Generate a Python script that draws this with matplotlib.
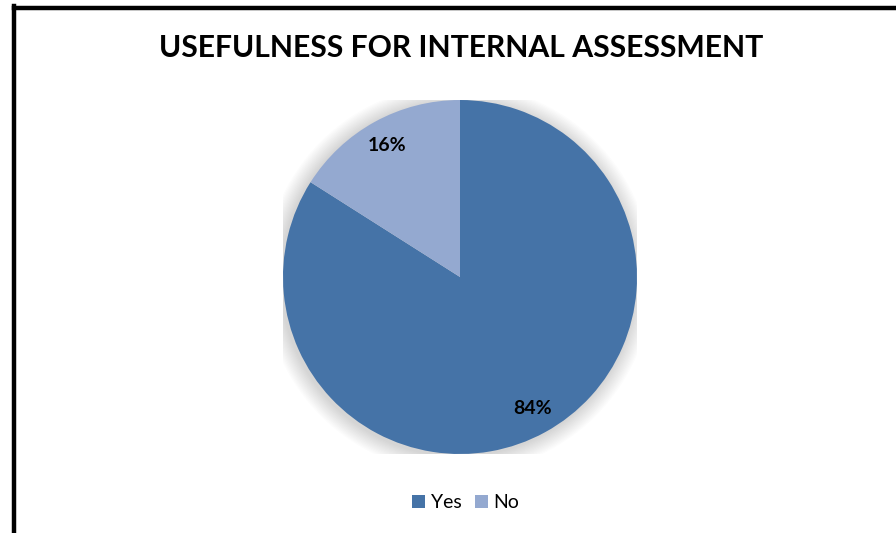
import matplotlib.pyplot as plt
from matplotlib.lines import Line2D
from matplotlib.patches import Circle, Patch

labels = ["Yes", "No"]
values = [84, 16]
colors = ["#4573A7", "#94A9D0"]

W, H = 896, 533
fig = plt.figure(figsize=(W / 100, H / 100), dpi=100)
plt.rcParams["font.family"] = ["Lato", "DejaVu Sans"]

# frame (only left and top edges visible in the crop)
fig.add_artist(Line2D([14 / W, 14 / W], [0, 1 - 6 / H], color="black", lw=3.2,
                      transform=fig.transFigure, solid_capstyle="projecting"))
fig.add_artist(Line2D([14 / W, 1], [1 - 8 / H, 1 - 8 / H], color="black", lw=3.2,
                      transform=fig.transFigure, solid_capstyle="projecting"))

fig.text(461 / W, 1 - 48 / H, "USEFULNESS FOR INTERNAL ASSESSMENT",
         ha="center", va="center", fontsize=21.7, fontweight="bold")

cx, cy, r = 460, 277, 177
ax = fig.add_axes([(cx - r) / W, (H - cy - r) / H, 2 * r / W, 2 * r / H])
ax.set_xlim(-1, 1)
ax.set_ylim(-1, 1)
ax.axis("off")

# soft shadow around the pie
for i in range(14):
    ax.add_patch(Circle((-0.01, -0.01), 1.0 + 0.007 * (14 - i), color="black",
                        alpha=0.011, lw=0, zorder=0))

wedges, texts, autotexts = ax.pie(values, colors=colors, startangle=90, counterclock=False,
                                  autopct="%d%%", pctdistance=0.85, radius=1.0,
                                  textprops=dict(fontsize=14, fontweight="bold", color="black"))
for w in wedges:
    w.set_zorder(2)
for t in autotexts:
    t.set_zorder(3)
ax.set_xlim(-1, 1)
ax.set_ylim(-1, 1)

handles = [Patch(facecolor=c, edgecolor="none") for c in colors]
fig.legend(handles, labels, loc="center", bbox_to_anchor=(466 / W, 1 - 503 / H), ncol=2,
           frameon=False, fontsize=14, handlelength=0.65, handleheight=0.65,
           handletextpad=0.3, columnspacing=0.7)

fig.savefig("out.png", dpi=100)
